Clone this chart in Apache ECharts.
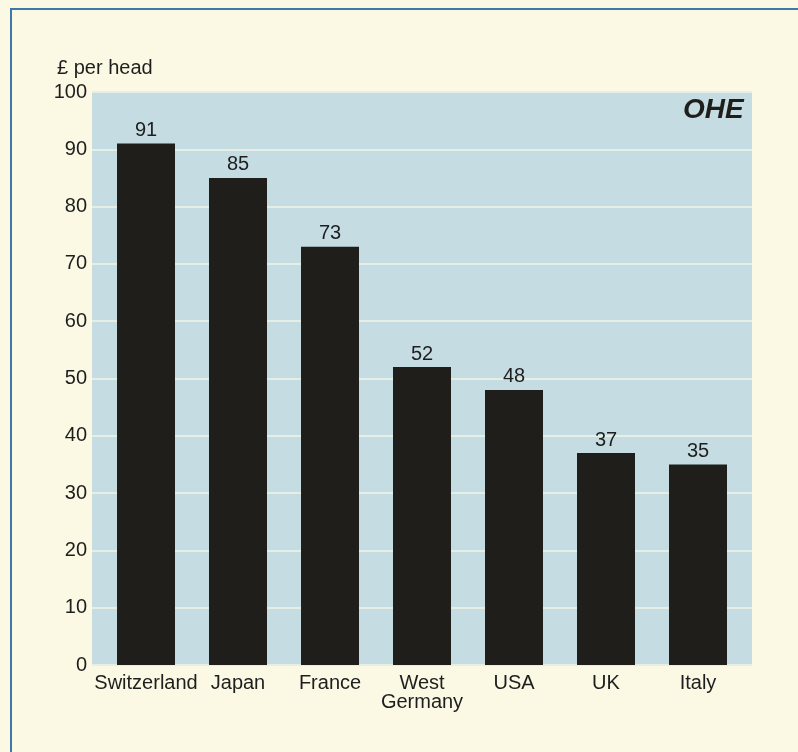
<!DOCTYPE html>
<html>
<head>
<meta charset="utf-8">
<script src="https://cdn.jsdelivr.net/npm/echarts@6/dist/echarts.min.js"></script>
<style>
html,body{margin:0;padding:0;background:#fbf8e4;}
#c{width:798px;height:752px;}
</style>
</head>
<body>
<div id="c"></div>
<script>
var categories = ['Switzerland', 'Japan', 'France', 'West\nGermany', 'USA', 'UK', 'Italy'];
var values = [91, 85, 73, 52, 48, 37, 35];
var yTicks = [0, 10, 20, 30, 40, 50, 60, 70, 80, 90, 100];
var unitLabel = '£ per head';

var font = 'Liberation Sans, Arial, Helvetica, sans-serif';
var chart = echarts.init(document.getElementById('c'));
chart.setOption({
  backgroundColor: '#fbf8e4',
  animation: false,
  textStyle: { fontFamily: font },
  grid: [
    { left: 92, right: 46, top: 92, bottom: 87, show: true, backgroundColor: '#c4dce2', borderWidth: 0 },
    { left: 100, right: 54, top: 92, bottom: 87 }
  ],
  xAxis: [
    { gridIndex: 0, type: 'value', min: 0, max: 1, show: false },
    { gridIndex: 1, type: 'category', data: categories,
      axisLine: { show: false }, axisTick: { show: false },
      axisLabel: { color: '#1e1e1e', fontSize: 20, fontFamily: font, margin: 9, lineHeight: 19, interval: 0 } }
  ],
  yAxis: [
    { gridIndex: 0, type: 'value', min: yTicks[0], max: yTicks[yTicks.length - 1], interval: 10,
      axisLine: { show: false }, axisTick: { show: false },
      axisLabel: { color: '#1e1e1e', fontSize: 20, fontFamily: font, margin: 5, padding: [4, 0, 0, 0] },
      splitLine: { show: true, lineStyle: { color: '#e6eee6', width: 2 } } },
    { gridIndex: 1, type: 'value', min: yTicks[0], max: yTicks[yTicks.length - 1], show: false, splitLine: { show: false } }
  ],
  series: [{
    type: 'bar', xAxisIndex: 1, yAxisIndex: 1,
    data: values, barWidth: 58,
    itemStyle: { color: '#1f1e1b' },
    label: { show: true, position: 'top', distance: 3, color: '#1e1e1e', fontSize: 20, fontFamily: font }
  }],
  graphic: [
    { type: 'text', left: 57, top: 58, style: { text: unitLabel, fill: '#1e1e1e', font: '20px ' + font } },
    { type: 'text', left: 683, top: 96, style: { text: 'OHE', fill: '#1f1e1b', font: 'italic bold 28px ' + font } },
    { type: 'line', shape: { x1: 10, y1: 9, x2: 798, y2: 9 }, style: { stroke: '#3d78a6', lineWidth: 2 } },
    { type: 'line', shape: { x1: 11, y1: 8, x2: 11, y2: 752 }, style: { stroke: '#3d78a6', lineWidth: 2 } }
  ]
});
</script>
</body>
</html>
